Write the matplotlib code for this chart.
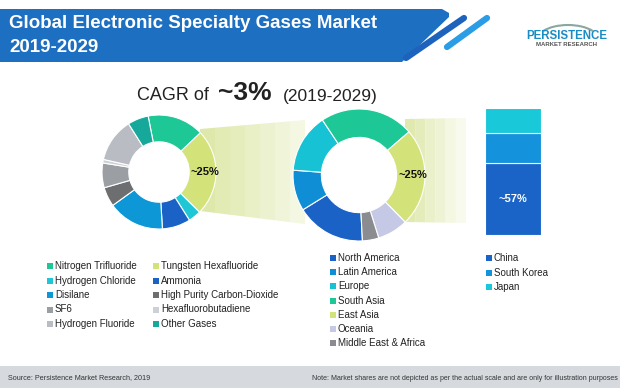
import numpy as np
import matplotlib.pyplot as plt
from matplotlib.patches import Polygon, Rectangle, Arc

# --- data ---
gas_labels = ['Nitrogen Trifluoride', 'Tungsten Hexafluoride', 'Hydrogen Chloride', 'Ammonia',
              'Disilane', 'High Purity Carbon-Dioxide', 'SF6', 'Hexafluorobutadiene',
              'Hydrogen Fluoride', 'Other Gases']
gas_share = [16, 24.5, 3.6, 8, 16, 5.5, 7, 1.0, 12.5, 5.9]
gas_colors = ['#1dc896', '#d4e27a', '#1fc6d6', '#1b62c6', '#0d97d6', '#6d6e70', '#9b9ea2',
              '#cdd1d7', '#b9bdc3', '#16a89a']

region_labels = ['North America', 'Latin America', 'Europe', 'South Asia', 'East Asia',
                 'Oceania', 'Middle East & Africa']
region_share = [17, 10, 14.5, 23, 24, 7.5, 4]
region_colors = ['#1b62c6', '#0f8ed6', '#17c2d5', '#1dc896', '#d4e27a', '#c6c9e6', '#8a8c8f']

country_labels = ['China', 'South Korea', 'Japan']
country_share = [57, 23, 20]
country_colors = ['#1a64c8', '#1592dc', '#1ac9d9']

W, H = 620, 388
plt.rcParams['font.family'] = ['Liberation Sans', 'DejaVu Sans']

fig = plt.figure(figsize=(W / 100, H / 100), dpi=100)
bg = fig.add_axes([0, 0, 1, 1])
bg.set_xlim(0, W)
bg.set_ylim(H, 0)
bg.axis('off')


def px_axes(x0, y0, w, h):
    return fig.add_axes([x0 / W, 1 - (y0 + h) / H, w / W, h / H])


# title bar
bg.add_patch(Polygon([(0, 9), (442, 9), (449, 13), (449, 17), (402, 62), (0, 62)],
                     closed=True, color='#1c6fc1', lw=0))
bg.plot([406, 464], [58, 18], color='#1d63bd', lw=4.5, solid_capstyle='round')
bg.plot([447, 487], [47, 18], color='#2a9de6', lw=4.5, solid_capstyle='round')
bg.text(9, 23, 'Global Electronic Specialty Gases Market', color='white', fontsize=13.5,
        fontweight='bold', va='center')
bg.text(9, 47, '2019-2029', color='white', fontsize=13.5, fontweight='bold', va='center')

# logo
bg.add_patch(Arc((568, 40), 62, 30, theta1=200, theta2=340, color='#8aa7a0', lw=1.5))
bg.text(567, 36, 'PERSISTENCE', color='#1a8cc4', fontsize=8.3, fontweight='bold',
        ha='center', va='center')
bg.text(567, 45, 'MARKET RESEARCH', color='#555555', fontsize=4.3, fontweight='bold',
        ha='center', va='center')

# CAGR headline
bg.text(137, 95, 'CAGR of', fontsize=13, color='#222222', va='center')
bg.text(218, 93, '~3%', fontsize=19, fontweight='bold', color='#222222', va='center')
bg.text(283, 96, '(2019-2029)', fontsize=12.5, color='#222222', va='center')


# projection bands (gradient strips)
def band(x0, x1, top0, top1, bot0, bot1, c0, c1, n=6):
    c0 = np.array(plt.matplotlib.colors.to_rgb(c0))
    c1 = np.array(plt.matplotlib.colors.to_rgb(c1))
    xs = np.linspace(x0, x1, n + 1)
    for i in range(n):
        a, b = xs[i], xs[i + 1]
        fa, fb = (a - x0) / (x1 - x0), (b - x0) / (x1 - x0)
        col = c0 + (c1 - c0) * (i / (n - 1))
        bg.add_patch(Polygon([(a, top0 + (top1 - top0) * fa), (b, top0 + (top1 - top0) * fb),
                              (b, bot0 + (bot1 - bot0) * fb), (a, bot0 + (bot1 - bot0) * fa)],
                             closed=True, color=col, lw=0))


band(200, 305, 129, 120, 211, 224, '#dde8aa', '#f4f7e2', n=7)
band(405, 466, 119, 118, 222, 223, '#e0e9b0', '#f9faee', n=6)

# left donut
ax1 = px_axes(102, 115, 114, 114)
ax1.pie(gas_share, colors=gas_colors, startangle=101, counterclock=False,
        wedgeprops=dict(width=0.47, edgecolor='white', linewidth=0.8))
ax1.set_xlim(-1, 1)
ax1.set_ylim(-1, 1)
ax1.set_facecolor('none')
ax1.text(0.8, 0, '~25%', fontsize=8, fontweight='bold', ha='center', va='center',
         color='#111111')

# right donut
ax2 = px_axes(293, 109, 132, 132)
ax2.pie(region_share, colors=region_colors, startangle=-87, counterclock=False,
        wedgeprops=dict(width=0.43, edgecolor='white', linewidth=0.8))
ax2.set_xlim(-1, 1)
ax2.set_ylim(-1, 1)
ax2.set_facecolor('none')
ax2.text(0.82, 0, '~25%', fontsize=8, fontweight='bold', ha='center', va='center',
         color='#111111')

# stacked bar
ax3 = px_axes(485, 108, 56, 127)
bottom = 0
for val, col in zip(country_share, country_colors):
    ax3.bar(0, val, bottom=bottom, width=1, color=col, edgecolor='white', linewidth=0.8)
    bottom += val
ax3.set_xlim(-0.5, 0.5)
ax3.set_ylim(0, sum(country_share))
ax3.axis('off')
ax3.text(0, country_share[0] / 2, '~57%', color='white', fontsize=8, fontweight='bold',
         ha='center', va='center')

# legends
fs_leg = 7
gas_order = [0, 2, 4, 6, 8, 1, 3, 5, 7, 9]
for k, idx in enumerate(gas_order):
    col, row = divmod(k, 5)
    x = 50 + col * 106
    y = 266 + row * 14.5
    bg.scatter(x, y, s=16, marker='s', color=gas_colors[idx], lw=0)
    bg.text(x + 5, y, gas_labels[idx], fontsize=fs_leg, va='center', color='#222222')

for k, (lab, col) in enumerate(zip(region_labels, region_colors)):
    y = 258 + k * 14.2
    bg.scatter(333, y, s=16, marker='s', color=col, lw=0)
    bg.text(338, y, lab, fontsize=fs_leg, va='center', color='#222222')

for k, (lab, col) in enumerate(zip(country_labels, country_colors)):
    y = 258 + k * 14.5
    bg.scatter(489, y, s=16, marker='s', color=col, lw=0)
    bg.text(494, y, lab, fontsize=fs_leg, va='center', color='#222222')

# footer
bg.add_patch(Rectangle((0, 366), W, 22, color='#d6dade', lw=0))
bg.text(8, 378, 'Source: Persistence Market Research, 2019', fontsize=5.2, va='center',
        color='#333333')
bg.text(312, 378, 'Note: Market shares are not depicted as per the actual scale and are only '
        'for illustration purposes', fontsize=5.0, va='center', color='#333333')

fig.savefig('out.png', dpi=100, facecolor='white')
